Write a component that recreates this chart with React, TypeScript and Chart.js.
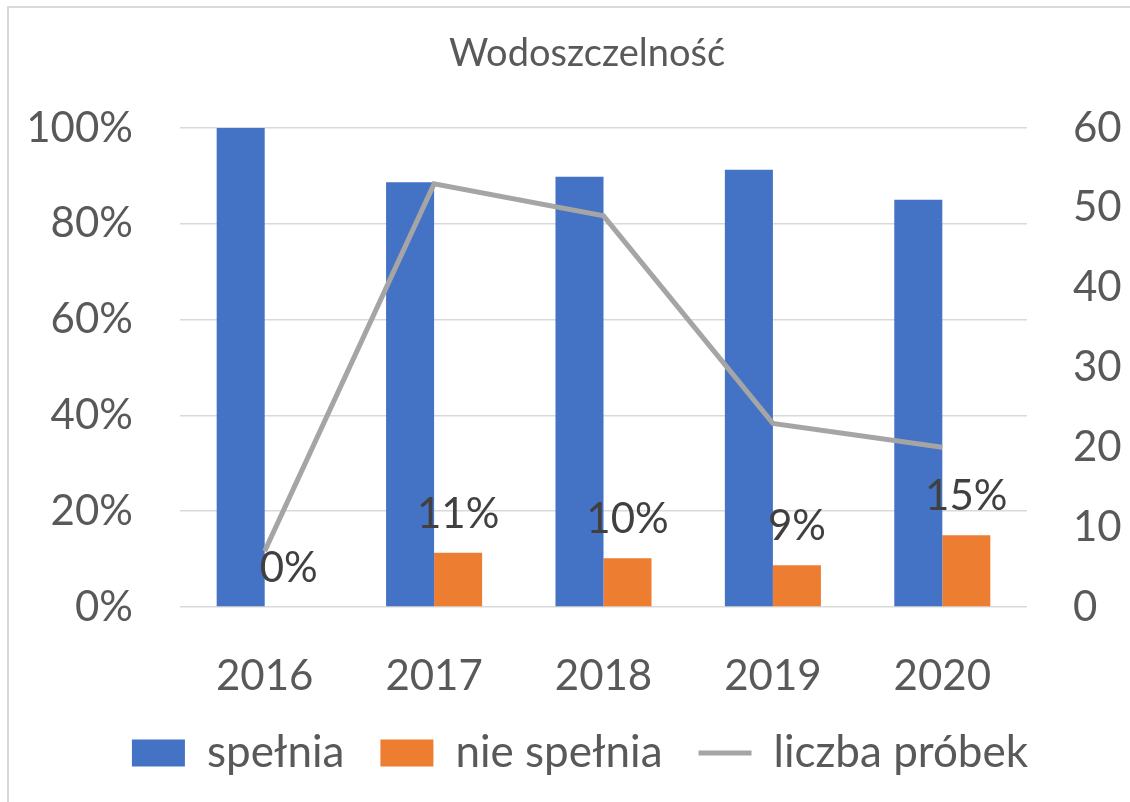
import React, { useEffect, useRef } from "react";
import { Chart, registerables } from "chart.js";

Chart.register(...registerables);

const categories = ["2016", "2017", "2018", "2019", "2020"];
const spelnia = [100, 88.68, 89.8, 91.3, 85];
const nieSpelnia = [0, 11.32, 10.2, 8.7, 15];
const liczbaProbek = [7, 53, 49, 23, 20];
const leftTicks = [0, 20, 40, 60, 80, 100];
const rightTicks = [0, 10, 20, 30, 40, 50, 60];
const titleText = "Wodoszczelność";

const FONT = "Lato, 'Open Sans', sans-serif";
const TEXT = "#595959";

const decorPlugin = {
  id: "decor",
  beforeDraw(chart: any) {
    const ctx = chart.ctx;
    ctx.save();
    ctx.fillStyle = "#d9d9d9";
    ctx.fillRect(7, 6, 2, chart.height - 6);
    ctx.fillRect(7, 6, chart.width - 7, 2);
    ctx.fillStyle = TEXT;
    ctx.font = `38px ${FONT}`;
    ctx.textAlign = "center";
    ctx.textBaseline = "alphabetic";
    ctx.fillText(titleText, 587, 66);
    ctx.restore();
  },
  afterDatasetsDraw(chart: any) {
    const ctx = chart.ctx;
    const meta = chart.getDatasetMeta(1);
    ctx.save();
    ctx.fillStyle = "#404040";
    ctx.font = `42px ${FONT}`;
    ctx.textAlign = "center";
    ctx.textBaseline = "alphabetic";
    meta.data.forEach((bar: any, i: number) => {
      const v = chart.data.datasets[1].data[i] as number;
      ctx.fillText(`${Math.round(v)}%`, bar.x, bar.y - 25);
    });
    ctx.restore();
  },
};

export default function App() {
  const ref = useRef<HTMLCanvasElement>(null);
  useEffect(() => {
    if (!ref.current) return;
    const chart = new Chart(ref.current, {
      type: "bar",
      data: {
        labels: categories,
        datasets: [
          {
            label: "spełnia",
            data: spelnia,
            backgroundColor: "#4472c4",
            yAxisID: "y",
            order: 1,
            categoryPercentage: 0.567,
            barPercentage: 1,
          } as any,
          {
            label: "nie spełnia",
            data: nieSpelnia,
            backgroundColor: "#ed7d31",
            yAxisID: "y",
            order: 1,
            categoryPercentage: 0.567,
            barPercentage: 1,
          },
          {
            type: "line",
            label: "liczba próbek",
            data: liczbaProbek,
            borderColor: "#a5a5a5",
            backgroundColor: "#a5a5a5",
            borderWidth: 5,
            pointRadius: 0,
            yAxisID: "y1",
            order: 0,
            tension: 0,
          },
        ],
      },
      options: {
        responsive: false,
        animation: false,
        devicePixelRatio: 1,
        layout: { padding: { left: 30, right: 0, top: 128, bottom: 17 } },
        plugins: {
          title: { display: false },
          tooltip: { enabled: false },
          legend: {
            position: "bottom",
            labels: {
              usePointStyle: true,
              pointStyleWidth: 53,
              boxHeight: 27,
              padding: 36,
              color: TEXT,
              font: { family: FONT, size: 44 },
              sort: (a: any, b: any) => a.datasetIndex - b.datasetIndex,
              generateLabels: (c: any) => {
                const items = (Chart as any).defaults.plugins.legend.labels.generateLabels(c);
                items.forEach((it: any) => {
                  it.pointStyle = it.datasetIndex === 2 ? "line" : "rect";
                  if (it.datasetIndex !== 2) it.lineWidth = 0;
                });
                return items;
              },
            },
          },
        },
        scales: {
          x: {
            grid: { display: false },
            border: { display: false },
            ticks: { color: TEXT, font: { family: FONT, size: 42 }, padding: 36 },
            afterFit: (s: any) => {
              s.height = 88;
            },
          },
          y: {
            position: "left",
            min: 0,
            max: 100,
            afterBuildTicks: (s: any) => {
              s.ticks = leftTicks.map((v) => ({ value: v }));
            },
            grid: { color: "#d9d9d9", lineWidth: 1.5, drawTicks: false },
            border: { display: false },
            ticks: {
              color: TEXT,
              font: { family: FONT, size: 42 },
              padding: 47,
              callback: (v: any) => `${v}%`,
            },
            afterFit: (s: any) => {
              s.width = 150;
            },
          },
          y1: {
            position: "right",
            min: 0,
            max: 60,
            afterBuildTicks: (s: any) => {
              s.ticks = rightTicks.map((v) => ({ value: v }));
            },
            grid: { display: false, drawTicks: false },
            border: { display: false },
            ticks: { color: TEXT, font: { family: FONT, size: 42 }, padding: 46 },
            afterFit: (s: any) => {
              s.width = 103;
            },
          },
        },
      },
      plugins: [decorPlugin],
    });
    return () => chart.destroy();
  }, []);
  return (
    <div style={{ position: "absolute", left: 0, top: 0, width: 1130, height: 802, background: "#fff" }}>
      <canvas ref={ref} width={1130} height={802} style={{ display: "block" }} />
    </div>
  );
}
